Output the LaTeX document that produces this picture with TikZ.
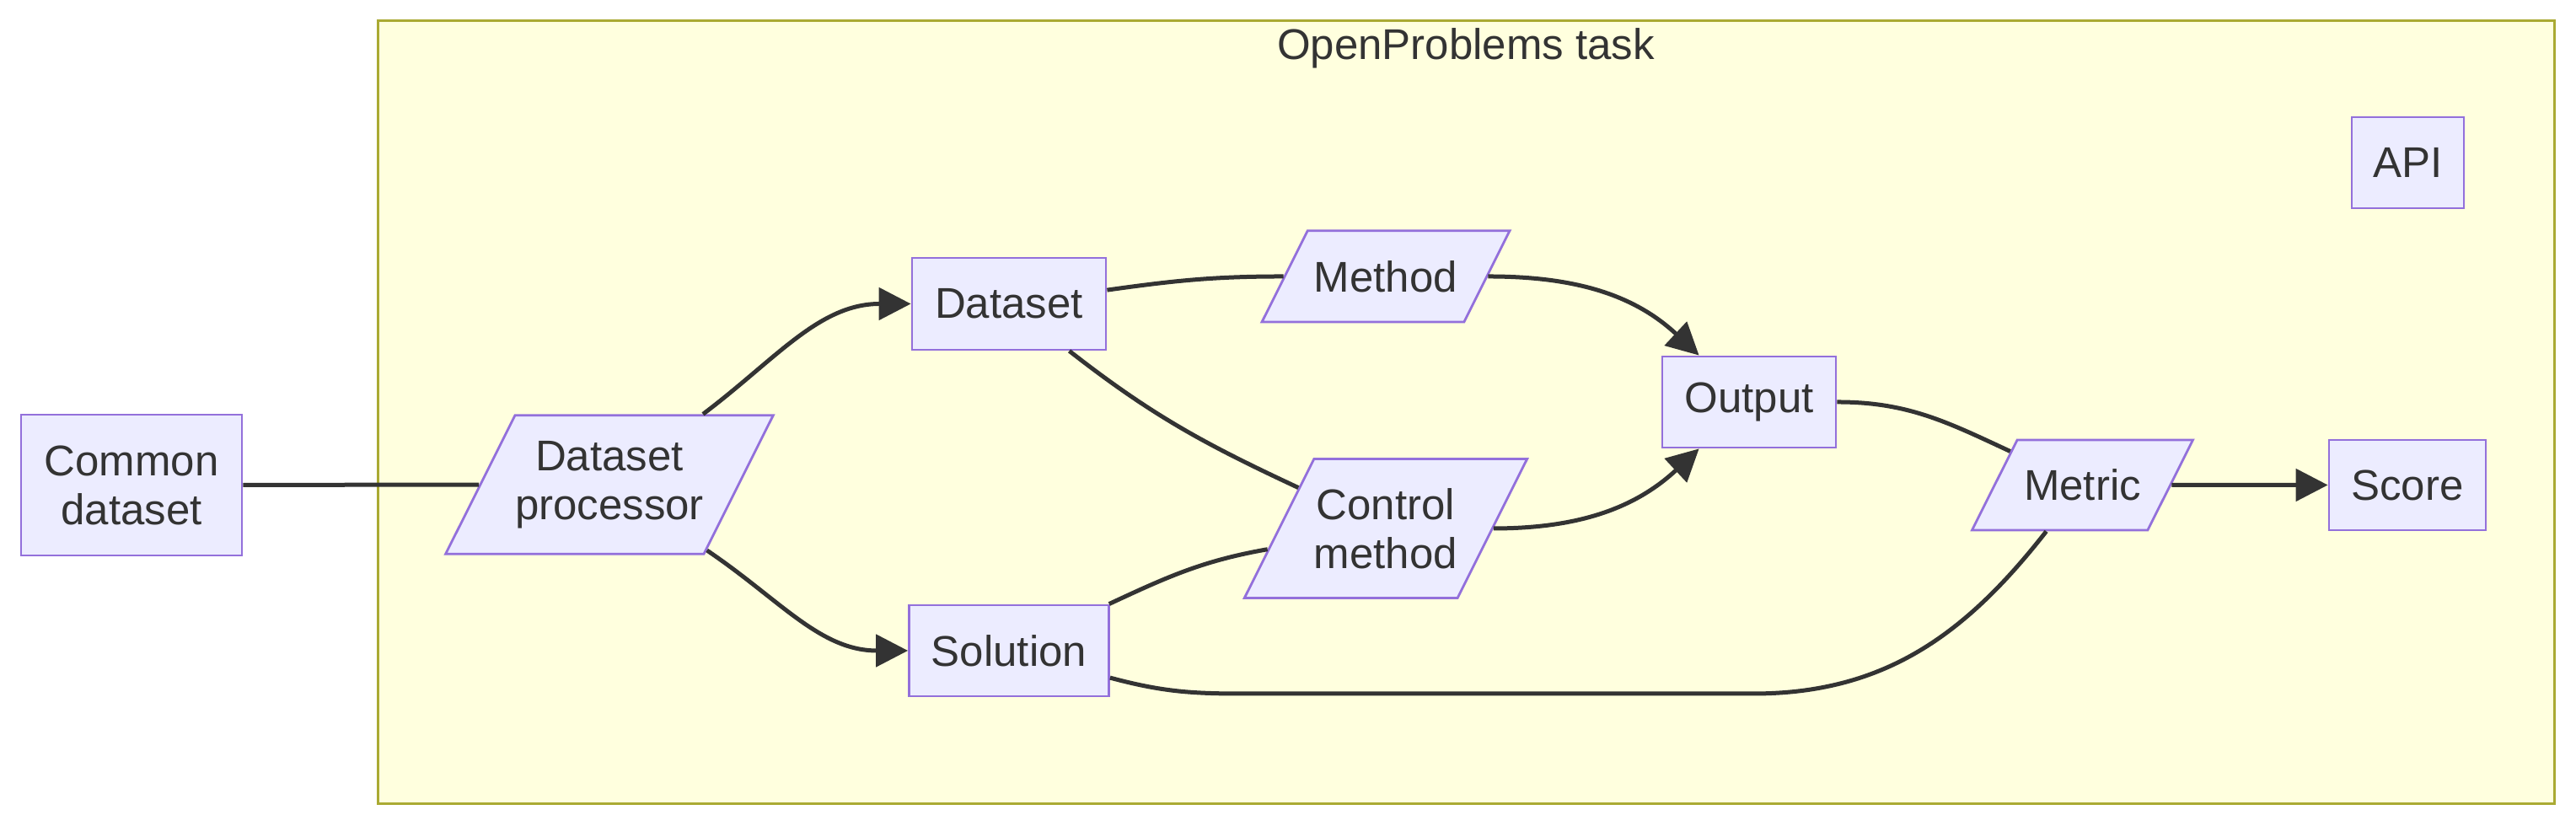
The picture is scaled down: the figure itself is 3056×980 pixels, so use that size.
\documentclass[tikz,border=0pt]{standalone}
\usepackage{fontspec}
\setmainfont{Liberation Sans}
\usepackage{tikz}
\usetikzlibrary{arrows.meta,shapes.geometric}
\definecolor{nodefill}{HTML}{ECECFF}
\definecolor{nodeline}{HTML}{9370DB}
\definecolor{taskfill}{HTML}{FFFFDE}
\definecolor{taskline}{HTML}{AAAA33}
\definecolor{ink}{HTML}{333333}
\newcommand\mfont{\fontsize{12.75}{14.5}\selectfont}
\tikzset{
  box/.style={draw=nodeline,line width=0.7pt,fill=nodefill,align=center,
              inner sep=0pt,text=ink,font=\mfont},
  iobox/.style={box,trapezium,trapezium left angle=63.4,trapezium right angle=116.6,
                trapezium stretches body=true,inner ysep=#1},
  link/.style={draw=ink,line width=1.25pt},
  arr/.style={link,-{Triangle[length=9.5pt,width=9.5pt]}},
  task/.style={draw=taskline,line width=0.75pt,fill=taskfill}
}

\begin{document}
\begin{tikzpicture}[x=0.25pt,y=0.25pt]
  \useasboundingbox (0,0) rectangle (3056,980);
  \node[task,minimum width=645.5pt,minimum height=232.25pt] (task) at (1739,490.5) {};
  \node[text=ink,font=\mfont] (title) at (1739,923) {OpenProblems task};
  \node[box,minimum width=65.5pt,minimum height=41.75pt] (common) at (156,404.5) {Common\\dataset};
  \node[iobox=7.6pt,minimum width=97pt] (proc) at (723,405) {Dataset\\processor};
  \node[box,minimum width=57.5pt,minimum height=27.25pt] (dataset) at (1197,619.5) {Dataset};
  \node[box,minimum width=59.25pt,minimum height=27pt] (solution) at (1197,208) {Solution};
  \node[iobox=8.85pt,minimum width=73.5pt] (method) at (1644,652) {Method};
  \node[iobox=8.7pt,minimum width=83.25pt] (control) at (1644,353) {Control\\method};
  \node[box,minimum width=51.5pt,minimum height=27pt] (output) at (2075,503) {Output};
  \node[iobox=8.7pt,minimum width=65.5pt] (metric) at (2470.5,404.5) {Metric};
  \node[box,minimum width=46.5pt,minimum height=26.75pt] (score) at (2856,404.5) {Score};
  \node[box,minimum width=33.25pt,minimum height=27pt] (api) at (2856.5,787) {API};

  \coordinate (low1) at (1470,157);
  \coordinate (low2) at (2080,157);

  \draw[link] (common) -- (proc);
  \draw[arr] (proc) to[out=37,in=180] (dataset);
  \draw[arr] (proc) to[out=-34,in=180] (solution);
  \draw[link] (dataset) to[out=8,in=180] (method);
  \draw[link] (dataset) to[out=-38,in=155] (control);
  \draw[link] (solution) to[out=25,in=190] (control);
  \draw[arr] (method) to[out=0,in=137] (output);
  \draw[arr] (control) to[out=0,in=-137] (output);
  \draw[link] (output) to[out=0,in=155] (metric);
  \draw[arr] (metric) -- (score);
  \draw[link] (solution) to[out=-15,in=180] (low1) -- (low2) to[out=0,in=-128] (metric);
\end{tikzpicture}
\end{document}
